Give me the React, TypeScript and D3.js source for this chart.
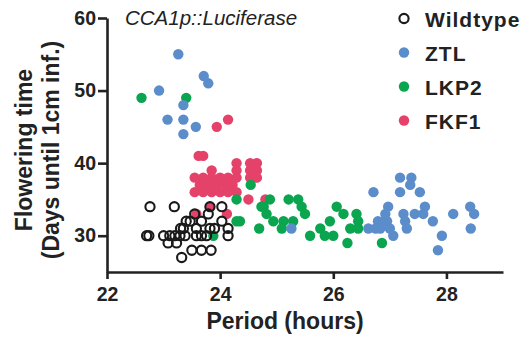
import {useEffect, useRef} from "react";
import * as d3 from "d3";

// [period (h), flowering time (days)]
const wildtype: [number, number][] = [
  [22.76, 34], [23.19, 34], [23.82, 34], [24.03, 34],
  [23.55, 33], [23.79, 33],
  [23.40, 32], [23.47, 32], [23.67, 32], [24.03, 32],
  [23.30, 31], [23.35, 31], [23.58, 31], [23.82, 31], [23.90, 31], [24.14, 31],
  [22.70, 30], [22.74, 30], [23.00, 30], [23.11, 30], [23.20, 30], [23.29, 30], [23.38, 30],
  [23.58, 30], [23.67, 30], [23.76, 30], [24.14, 30],
  [23.08, 29], [23.23, 29],
  [23.50, 28], [23.67, 28], [23.84, 28],
  [23.32, 27],
];

const ztl: [number, number][] = [
  [23.26, 55], [23.71, 52], [23.79, 51], [22.92, 50], [23.35, 48],
  [23.07, 46], [23.35, 46], [23.57, 45], [23.35, 44],
  [25.26, 31], [26.62, 31], [26.71, 36], [26.75, 31], [26.83, 31], [26.79, 32], [26.89, 32],
  [26.95, 32], [26.92, 33], [26.97, 34], [27.00, 31], [27.06, 30],
  [27.18, 38], [27.38, 38], [27.18, 36], [27.36, 37], [27.53, 36],
  [27.24, 33], [27.27, 32], [27.30, 31], [27.44, 33], [27.59, 33], [27.62, 34],
  [27.76, 32], [27.92, 30], [27.85, 28], [28.12, 33], [28.42, 34], [28.49, 33], [28.43, 31],
];

const lkp2: [number, number][] = [
  [22.61, 49], [23.40, 49],
  [24.54, 37], [24.29, 35], [24.88, 35], [24.73, 34], [24.77, 34], [24.82, 33],
  [24.94, 32], [24.69, 31], [24.35, 32], [24.29, 32], [23.88, 30],
  [25.21, 35], [25.38, 35], [25.44, 34], [25.50, 33], [25.12, 32], [25.29, 32],
  [25.09, 31], [25.59, 30], [25.77, 31], [25.94, 32], [26.06, 34], [26.18, 33],
  [25.85, 30], [26.00, 30], [26.25, 29], [26.30, 31], [26.44, 31], [26.41, 33],
  [26.44, 32], [26.86, 29],
];

const fkf1: [number, number][] = [
  [23.94, 45], [24.14, 46],
  [23.62, 41], [23.70, 41],
  [24.29, 40], [24.53, 40], [24.65, 40],
  [23.85, 39], [24.29, 39], [24.53, 39], [24.65, 39],
  [23.55, 38], [23.70, 38], [23.85, 38], [24.00, 38], [24.14, 38], [24.29, 38], [24.53, 38], [24.65, 38],
  [23.64, 37], [23.79, 37], [23.94, 37], [24.10, 37], [24.22, 37],
  [23.55, 36], [23.70, 36], [23.85, 36], [24.00, 36], [24.14, 36], [24.29, 36],
  [24.50, 35], [24.80, 35],
  [23.82, 34], [23.58, 33], [24.12, 33],
];

const xTicks = [22, 24, 26, 28];
const yTicks = [30, 40, 50, 60];

const series = [
  {name: "Wildtype", data: wildtype, color: "#1a1a1a", open: true},
  {name: "ZTL", data: ztl, color: "#5b8dcb", open: false},
  {name: "LKP2", data: lkp2, color: "#0aa54e", open: false},
  {name: "FKF1", data: fkf1, color: "#e5426a", open: false},
];

const font = "'Liberation Sans', Arial, Helvetica, sans-serif";

export default function App() {
  const ref = useRef<SVGSVGElement>(null);

  useEffect(() => {
    document.body.style.margin = "0";
    const svg = d3.select(ref.current);
    svg.selectAll("*").remove();

    const x = d3.scaleLinear().domain([22, 29]).range([107, 503]);
    const y = d3.scaleLinear().domain([25, 60]).range([272, 18]);

    // draw order: red, green, blue, then open circles on top
    const drawOrder = [series[3], series[2], series[1], series[0]];
    drawOrder.forEach(s => {
      svg.append("g")
        .selectAll("circle")
        .data(s.data)
        .enter()
        .append("circle")
        .attr("cx", d => x(d[0]))
        .attr("cy", d => y(d[1]))
        .attr("r", s.open ? 4.6 : 5.2)
        .attr("fill", s.open ? "none" : s.color)
        .attr("stroke", s.open ? s.color : "none")
        .attr("stroke-width", s.open ? 2.1 : 0);
    });

    const yAxis = svg.append("g")
      .attr("transform", "translate(107,0)")
      .call(d3.axisLeft(y).tickValues(yTicks).tickFormat(d3.format("d")).tickSize(9).tickSizeOuter(0).tickPadding(2));
    const xAxis = svg.append("g")
      .attr("transform", "translate(0,272)")
      .call(d3.axisBottom(x).tickValues(xTicks).tickFormat(d3.format("d")).tickSize(7).tickSizeOuter(0).tickPadding(8));

    [xAxis, yAxis].forEach(a => {
      a.selectAll("path, line").attr("stroke", "#222").attr("stroke-width", 2.6);
      a.selectAll("text")
        .attr("fill", "#222")
        .style("font-family", font)
        .style("font-weight", "bold")
        .style("font-size", "19.5px");
    });

    svg.append("text")
      .attr("x", 285).attr("y", 329)
      .attr("text-anchor", "middle")
      .style("font-family", font).style("font-weight", "bold").style("font-size", "23px")
      .attr("fill", "#222")
      .text("Period (hours)");

    const yTitle = ["Flowering time", "(Days until 1cm inf.)"];
    yTitle.forEach((t, i) => {
      svg.append("text")
        .attr("transform", `translate(${31.5 + i * 27},150) rotate(-90)`)
        .attr("text-anchor", "middle")
        .style("font-family", font).style("font-weight", "bold").style("font-size", "23px")
        .attr("fill", "#222")
        .text(t);
    });

    svg.append("text")
      .attr("x", 125).attr("y", 25)
      .style("font-family", font).style("font-style", "italic").style("font-size", "20.5px")
      .attr("fill", "#222")
      .text("CCA1p::Luciferase");

    const legend = svg.append("g");
    series.forEach((s, i) => {
      const cy = 18.5 + i * 34;
      legend.append("circle")
        .attr("cx", 404).attr("cy", cy)
        .attr("r", s.open ? 4.6 : 5.2)
        .attr("fill", s.open ? "none" : s.color)
        .attr("stroke", s.open ? s.color : "none")
        .attr("stroke-width", s.open ? 2.1 : 0);
      legend.append("text")
        .attr("x", 425).attr("y", cy + 8)
        .style("font-family", font).style("font-weight", "bold").style("font-size", "21px")
        .style("letter-spacing", "1px")
        .attr("fill", "#222")
        .text(s.name);
    });
  }, []);

  return <svg ref={ref} width={530} height={339} style={{display: "block", background: "#fff"}}/>;
}
